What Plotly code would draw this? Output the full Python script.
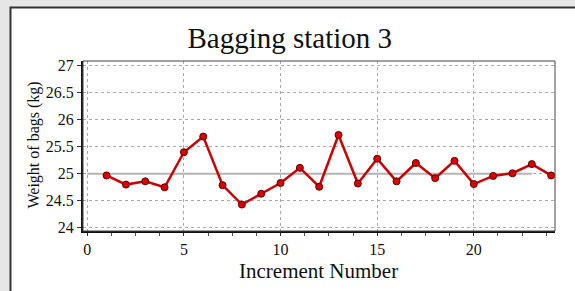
import plotly.graph_objects as go

increments = list(range(1, 25))
weights = [24.97, 24.80, 24.86, 24.75, 25.40, 25.69, 24.79, 24.43, 24.63, 24.83,
           25.11, 24.76, 25.72, 24.82, 25.28, 24.86, 25.20, 24.92, 25.24, 24.81,
           24.96, 25.01, 25.18, 24.97]
target_x = [0, 23]
target_y = [25, 25]
x_ticks = [0, 5, 10, 15, 20]
y_ticks = [24, 24.5, 25, 25.5, 26, 26.5, 27]

W, H = 575, 291
L, R, T, B = 83, 20, 61, 60
pw, ph = W - L - R, H - T - B

def px_x(p):
    return (p - L) / pw

def px_y(p):
    return (H - B - p) / ph

serif = "Liberation Serif, Times New Roman, serif"

fig = go.Figure()
fig.add_trace(go.Scatter(x=target_x, y=target_y, mode="lines",
                         line=dict(color="#b4b4b4", width=2), hoverinfo="skip"))
fig.add_trace(go.Scatter(x=increments, y=weights, mode="lines+markers",
                         line=dict(color="#cc0000", width=2.5),
                         marker=dict(color="#dd0000", size=7,
                                     line=dict(color="#5a0000", width=1))))

shapes = [
    dict(type="rect", xref="paper", yref="paper", layer="below",
         x0=px_x(10.5), x1=px_x(600), y0=px_y(320), y1=px_y(7.5),
         fillcolor="white", line=dict(color="#333333", width=2)),
    dict(type="rect", xref="paper", yref="paper", layer="above",
         x0=0, x1=1, y0=0, y1=1, line=dict(color="#444444", width=1)),
]

fig.update_layout(
    width=W, height=H,
    margin=dict(l=L, r=R, t=T, b=B),
    paper_bgcolor="#e6e6e6",
    plot_bgcolor="white",
    showlegend=False,
    shapes=shapes,
    title=dict(text="Bagging station 3", x=0.504, xanchor="center",
               y=1 - 38 / H, yanchor="middle",
               font=dict(family=serif, size=29, color="#111111")),
    annotations=[
        dict(text="Increment Number", xref="paper", yref="paper",
             x=px_x(318), y=px_y(271), showarrow=False,
             xanchor="center", yanchor="middle",
             font=dict(family=serif, size=21, color="#111111")),
        dict(text="Weight of bags (kg)", xref="paper", yref="paper",
             x=px_x(33), y=px_y(145.5), showarrow=False, textangle=-90,
             xanchor="center", yanchor="middle",
             font=dict(family=serif, size=16, color="#111111")),
    ],
)

fig.update_xaxes(range=[-0.22, 24.2], tickvals=x_ticks, ticks="outside", ticklen=3,
                 tickcolor="#333333",
                 minor=dict(dtick=1.25, tick0=0, ticks="outside", ticklen=3,
                            tickcolor="#555555", showgrid=False),
                 showgrid=True, gridcolor="#aaaaaa", griddash="dot", gridwidth=1,
                 showline=True, linecolor="#111111", linewidth=2, zeroline=False,
                 tickfont=dict(family=serif, size=16, color="#111111"))
fig.update_yaxes(range=[23.94, 27.09], tickvals=y_ticks, ticks="outside", ticklen=4,
                 tickcolor="#333333",
                 showgrid=True, gridcolor="#aaaaaa", griddash="dot", gridwidth=1,
                 showline=True, linecolor="#111111", linewidth=2, zeroline=False,
                 tickfont=dict(family=serif, size=16, color="#111111"))

fig.write_html("out.html",
               config={"displayModeBar": False},
               post_script="document.body.style.margin='0';"
                           "document.body.style.overflow='hidden';"
                           "document.body.style.background='#e6e6e6';")
